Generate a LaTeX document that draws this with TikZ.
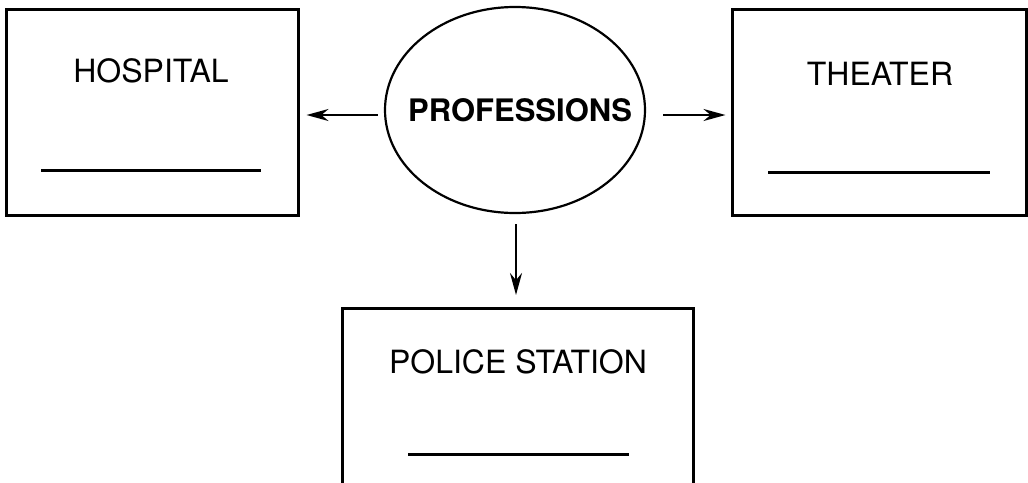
\documentclass[tikz,border=0pt]{standalone}
\usepackage{fontspec}
\setmainfont{TeX Gyre Heros}
\usetikzlibrary{arrows.meta,shapes.geometric}

\tikzset{
    placebox/.style={draw, line width=3pt, inner sep=0pt},
    placename/.style={anchor=base, font=\fontsize{32}{36}\selectfont},
    blank/.style={line width=3pt},
    link/.style={line width=2.4pt, -{Stealth[length=22pt,width=12pt]}}
}

\begin{document}
\begin{tikzpicture}[x=1pt, y=-1pt]
    \useasboundingbox (0,0) rectangle (1028,482);
    % Centre
    \node[draw, ellipse, line width=2.2pt, inner sep=0pt,
          minimum width=260pt, minimum height=206pt] (prof) at (515,110) {};
    \node[font=\bfseries\fontsize{31}{35}\selectfont, inner sep=0pt] (proftext) at (520,110) {PROFESSIONS};

    % Hospital
    \node[placebox, minimum width=292pt, minimum height=206pt] (hosp) at (152,112) {};
    \node[placename] (hosptext) at (151,82) {HOSPITAL};
    \draw[blank] (41,170) -- (261,170);

    % Theater
    \node[placebox, minimum width=294pt, minimum height=206pt] (thea) at (879,112) {};
    \node[placename] (theatext) at (880,85) {THEATER};
    \draw[blank] (768,172) -- (990,172);

    % Police station
    \node[placebox, minimum width=351pt, minimum height=220pt, anchor=north] (police) at (517.5,307) {};
    \node[placename] (policetext) at (518,373) {POLICE STATION};
    \draw[blank] (408,454) -- (629,454);

    % Arrows
    \draw[link, shorten <=6pt, shorten >=7pt] ([yshift=-5pt]prof.west) -- ([yshift=-5pt]prof.west -| hosp.east);
    \draw[link, shorten <=17pt, shorten >=5pt] ([yshift=-5pt]prof.east) -- ([yshift=-5pt]prof.east -| thea.west);
    \draw[link, shorten <=10pt, shorten >=12pt] ([xshift=1pt]prof.south) -- ([xshift=1pt]prof.south |- police.north);
\end{tikzpicture}
\end{document}
